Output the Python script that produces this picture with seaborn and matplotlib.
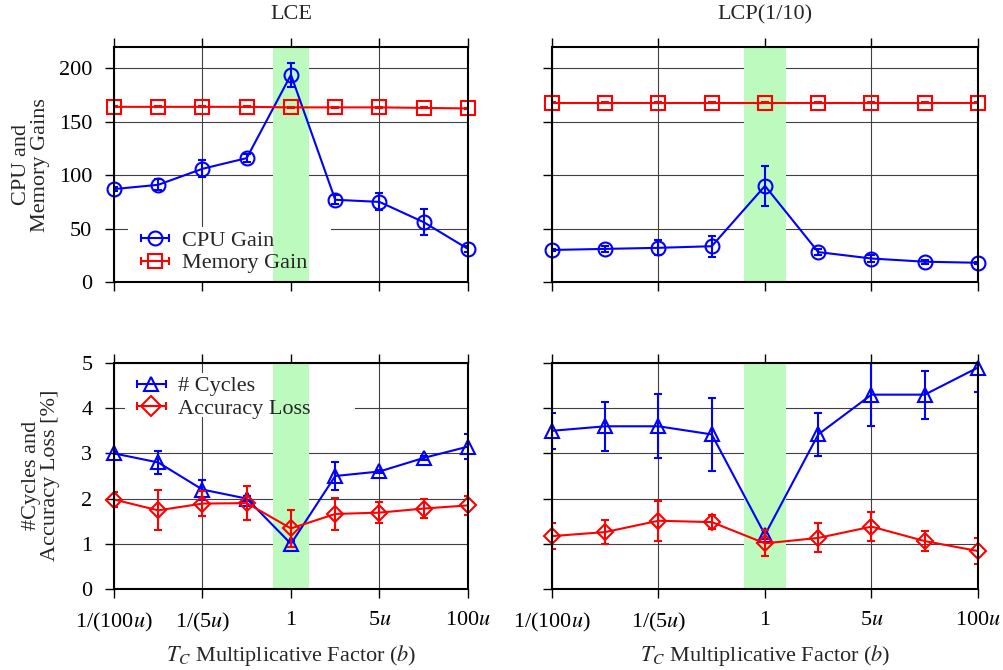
import numpy as np
import pandas as pd
import seaborn as sns
import matplotlib.pyplot as plt
from matplotlib.lines import Line2D
from matplotlib.patches import Rectangle
from matplotlib.legend_handler import HandlerLine2D, HandlerTuple

# x positions and labels (T_C multiplicative factor)
factor_pos = [0, 1, 2, 3, 4, 5, 6, 7, 8]
tick_pos = [0, 2, 4, 6, 8]
tick_labels = ['1/(100$u$)', '1/(5$u$)', '1', '5$u$', '100$u$']

# LCE, gains
lce_cpu = [87, 91, 106, 116, 194, 77, 75, 56, 31]
lce_cpu_err = [2, 5, 8, 4, 11, 4, 8, 12, 3]
lce_mem = [164, 164, 164, 164, 163.5, 163.5, 163.5, 163, 162.5]
lce_mem_err = [0.5, 0.5, 0.5, 0.5, 0.5, 0.5, 0.5, 0.5, 0.5]
# LCP(1/10), gains
lcp_cpu = [30, 31, 32, 33.5, 90, 28, 22, 19, 18]
lcp_cpu_err = [1, 3, 7, 10, 19, 3, 3, 2, 1]
lcp_mem = [168, 168, 168, 168, 168, 168, 168, 168, 168]
lcp_mem_err = [0.5, 0.5, 0.5, 0.5, 0.5, 0.5, 0.5, 0.5, 0.5]
# LCE, cycles / accuracy loss
lce_cycles = [3.0, 2.8, 2.2, 2.0, 1.0, 2.5, 2.6, 2.9, 3.15]
lce_cycles_err = [0.02, 0.25, 0.22, 0.05, 0.06, 0.3, 0.03, 0.05, 0.27]
lce_acc = [1.98, 1.74, 1.89, 1.90, 1.34, 1.66, 1.69, 1.78, 1.85]
lce_acc_err = [0.16, 0.44, 0.28, 0.37, 0.41, 0.36, 0.24, 0.21, 0.21]
# LCP(1/10), cycles / accuracy loss
lcp_cycles = [3.5, 3.6, 3.6, 3.42, 1.2, 3.42, 4.3, 4.3, 4.9]
lcp_cycles_err = [0.40, 0.54, 0.71, 0.80, 0.1, 0.47, 0.70, 0.53, 0.55]
lcp_acc = [1.17, 1.26, 1.51, 1.48, 1.01, 1.13, 1.38, 1.06, 0.84]
lcp_acc_err = [0.28, 0.26, 0.44, 0.16, 0.29, 0.32, 0.32, 0.22, 0.29]

BLUE = '#0000ff'
RED = '#ff0000'
GREEN = '#bdfabd'
FS = 16

sns.set_theme(style='ticks')
plt.rcParams['font.family'] = 'serif'
plt.rcParams['font.serif'] = ['Liberation Serif', 'DejaVu Serif']
plt.rcParams['mathtext.fontset'] = 'stix'


def draw_series(ax, y, err, color, marker, label):
    df = pd.DataFrame({'pos': factor_pos, 'value': y})
    sns.lineplot(data=df, x='pos', y='value', ax=ax, color=color, marker=marker,
                 markersize=10, markerfacecolor='none', markeredgecolor=color,
                 markeredgewidth=1.5, linewidth=1.5, clip_on=False, zorder=3,
                 label=label, legend=False)
    ax.errorbar(factor_pos, y, yerr=err, fmt='none', ecolor=color,
                elinewidth=1.5, capsize=3, capthick=1.5, zorder=3)


def style_axes(ax, yticks, ylim, show_x, show_y):
    ax.set_xlim(0, 8)
    ax.set_ylim(*ylim)
    ax.set_xticks(tick_pos)
    ax.set_yticks(yticks)
    ax.set_axisbelow(True)
    ax.grid(True, color='0.25', linewidth=0.8)
    ax.axvspan(3.6, 4.4, color=GREEN, linewidth=0, zorder=1)
    ax.tick_params(axis='x', direction='out', length=6.5, width=1, top=True,
                   bottom=True, labelsize=FS, pad=9, colors='black')
    ax.tick_params(axis='y', direction='out', length=6.5, width=1, left=True,
                   right=False, labelsize=FS, pad=9, colors='black')
    if show_x:
        ax.set_xticklabels(tick_labels)
        ax.set_xlabel('$T_C$ Multiplicative Factor ($b$)', fontsize=FS)
        ax.xaxis.set_label_coords(0.5, -0.24)
    else:
        ax.set_xticklabels([])
        ax.set_xlabel('')
    if not show_y:
        ax.set_yticklabels([])
    ax.set_ylabel('')
    for s in ax.spines.values():
        s.set_visible(True)
        s.set_color('black')
        s.set_linewidth(1.5)
        s.set_zorder(4)


def make_legend(ax, colors, markers, labels, loc, anchor, blank):
    # white key area hides the grid but not the highlighted band
    ax.add_patch(Rectangle(blank[:2], blank[2], blank[3], transform=ax.transAxes,
                           facecolor='white', linewidth=0, zorder=0.9))
    handles = []
    hmap = {}
    for c, m in zip(colors, markers):
        line = Line2D([], [], color=c, marker=m, markersize=10, markerfacecolor='none',
                      markeredgecolor=c, markeredgewidth=1.5, linewidth=1.5)
        caps = Line2D([], [], color=c, marker='|', markersize=6, markeredgewidth=1.5,
                      linestyle='none')
        hmap[caps] = HandlerLine2D(numpoints=2, marker_pad=0)
        handles.append((line, caps))
    hmap[tuple] = HandlerTuple(ndivide=1)
    ax.legend(handles, labels, handler_map=hmap, loc=loc, bbox_to_anchor=anchor,
              frameon=False, fontsize=FS, handlelength=1.3, handletextpad=0.55,
              labelspacing=0.08, borderpad=0, borderaxespad=0)


fig = plt.figure(figsize=(10.04, 6.70), dpi=100)
ax_tl = fig.add_axes([0.1135, 0.5791, 0.3526, 0.3507])
ax_tr = fig.add_axes([0.5498, 0.5791, 0.4243, 0.3507])
ax_bl = fig.add_axes([0.1135, 0.1209, 0.3526, 0.3373])
ax_br = fig.add_axes([0.5498, 0.1209, 0.4243, 0.3373])

gain_ticks = [0, 50, 100, 150, 200]
loss_ticks = [0, 1, 2, 3, 4, 5]

draw_series(ax_tl, lce_cpu, lce_cpu_err, BLUE, 'o', 'CPU Gain')
draw_series(ax_tl, lce_mem, lce_mem_err, RED, 's', 'Memory Gain')
style_axes(ax_tl, gain_ticks, (0, 220), False, True)
make_legend(ax_tl, [BLUE, RED], ['o', 's'], ['CPU Gain', 'Memory Gain'],
            'lower left', (0.075, 0.037), (0.04, 0.0, 0.573, 0.234))

draw_series(ax_tr, lcp_cpu, lcp_cpu_err, BLUE, 'o', 'CPU Gain')
draw_series(ax_tr, lcp_mem, lcp_mem_err, RED, 's', 'Memory Gain')
style_axes(ax_tr, gain_ticks, (0, 220), False, False)

draw_series(ax_bl, lce_cycles, lce_cycles_err, BLUE, '^', '# Cycles')
draw_series(ax_bl, lce_acc, lce_acc_err, RED, 'D', 'Accuracy Loss')
style_axes(ax_bl, loss_ticks, (0, 5), True, True)
make_legend(ax_bl, [BLUE, RED], ['^', 'D'], ['# Cycles', 'Accuracy Loss'],
            'upper left', (0.065, 0.943), (0.031, 0.761, 0.65, 0.195))

draw_series(ax_br, lcp_cycles, lcp_cycles_err, BLUE, '^', '# Cycles')
draw_series(ax_br, lcp_acc, lcp_acc_err, RED, 'D', 'Accuracy Loss')
style_axes(ax_br, loss_ticks, (0, 5), True, False)

# diamonds a bit smaller than the other markers
for ax in (ax_bl, ax_br):
    for ln in ax.lines:
        if ln.get_marker() == 'D':
            ln.set_markersize(8)

fig.text(0.2898, 0.978, 'LCE', ha='center', va='center', fontsize=FS)
fig.text(0.7620, 0.978, 'LCP(1/10)', ha='center', va='center', fontsize=FS)
fig.text(0.031, 0.754, 'CPU and\nMemory Gains', rotation=90, ha='center',
         va='center', fontsize=FS, multialignment='center', linespacing=1.0)
fig.text(0.041, 0.290, '#Cycles and\nAccuracy Loss [%]', rotation=90, ha='center',
         va='center', fontsize=FS, multialignment='center', linespacing=1.0)

fig.savefig('out.png', dpi=100)
